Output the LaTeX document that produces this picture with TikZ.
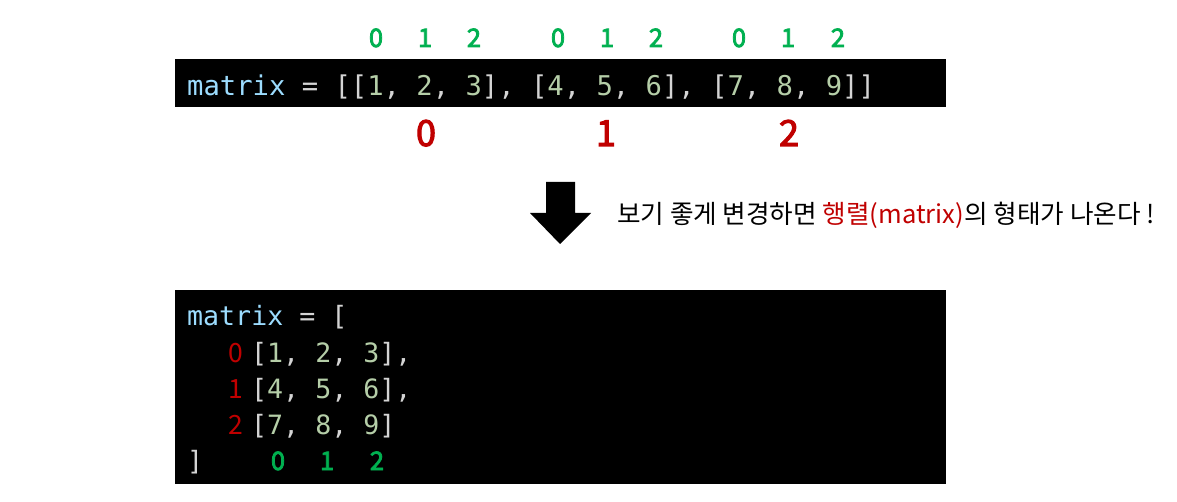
\documentclass[tikz,border=0pt]{standalone}
\usepackage{fontspec}
\usepackage{xcolor}
\usepackage{tikz}
\usetikzlibrary{positioning}

\newfontfamily\krfont{Noto Sans CJK KR}
\newfontfamily\krdigit{Noto Sans CJK KR}[FakeBold=3]
\newfontfamily\monofont{DejaVu Sans Mono}

\definecolor{varblue}{HTML}{9CDCFE}
\definecolor{numgreen}{HTML}{B5CEA8}
\definecolor{codegray}{HTML}{D4D4D4}
\definecolor{idxred}{HTML}{C00000}
\definecolor{idxgreen}{HTML}{00B050}

\newcommand{\cv}[1]{\textcolor{varblue}{#1}}
\newcommand{\cn}[1]{\textcolor{numgreen}{#1}}

\tikzset{
    code/.style={inner sep=0pt, anchor=base west, text=codegray, font=\monofont\fontsize{26.6}{26.6}\selectfont},
    codewide/.style={code, font=\monofont\fontsize{27.2}{27.2}\selectfont},
    colidx/.style={inner sep=0pt, anchor=base, text=idxgreen, font=\krdigit\fontsize{25.5}{25.5}\selectfont},
    rowidx/.style={inner sep=0pt, anchor=base, text=idxred, font=\krdigit\fontsize{36}{36}\selectfont},
    rowidxsmall/.style={inner sep=0pt, anchor=base, text=idxred, font=\krfont\fontsize{26.5}{26.5}\selectfont},
    note/.style={inner sep=0pt, anchor=base west, text=black, font=\krfont\fontsize{25.6}{25.6}\selectfont},
    codebox/.style={fill=black, draw=none}
}

\begin{document}
\begin{tikzpicture}[x=1pt, y=-1pt]
    \useasboundingbox (0,0) rectangle (1177,502);

    % one-line form
    \fill[codebox] (175,59) rectangle (946,107);
    \node[codewide] (flat) at (187,96) {\cv{matrix} = [[\cn{1}, \cn{2}, \cn{3}], [\cn{4}, \cn{5}, \cn{6}], [\cn{7}, \cn{8}, \cn{9}]]};

    \foreach \x/\i [count=\k] in {376/0,425/1,474/2,558/0,607/1,656/2,739/0,788/1,838/2}
    \node[colidx] (top\k) at (\x,47) {\i};

    \node[rowidx] (row0) at (426,146) {0};
    \node[rowidx] (row1) at (606,146) {1};
    \node[rowidx] (row2) at (789,146) {2};

    % down arrow and remark
    \fill (546,182) -- (575,182) -- (575,213) -- (591,213) -- (560,244) -- (530,213) -- (546,213) -- cycle;
    \node[note] (remark) at (617,224) {보기 좋게 변경하면 \textcolor{idxred}{행렬(matrix)}의 형태가 나온다 !};

    % matrix form
    \fill[codebox] (175,290) rectangle (946,484);
    \node[code] (line1) at (187,326) {\cv{matrix} = [};
    \node[code] (line2) at (251,362) {[\cn{1}, \cn{2}, \cn{3}],};
    \node[code] (line3) at (251,398) {[\cn{4}, \cn{5}, \cn{6}],};
    \node[code] (line4) at (251,434) {[\cn{7}, \cn{8}, \cn{9}]};
    \node[code] (line5) at (187,470) {]};

    \node[rowidxsmall] (r0) at (236,362) {0};
    \node[rowidxsmall] (r1) at (236,398) {1};
    \node[rowidxsmall] (r2) at (236,434) {2};

    \foreach \x/\i in {278/0,327/1,377/2}
    \node[colidx] (bot\i) at (\x,470) {\i};
\end{tikzpicture}
\end{document}
